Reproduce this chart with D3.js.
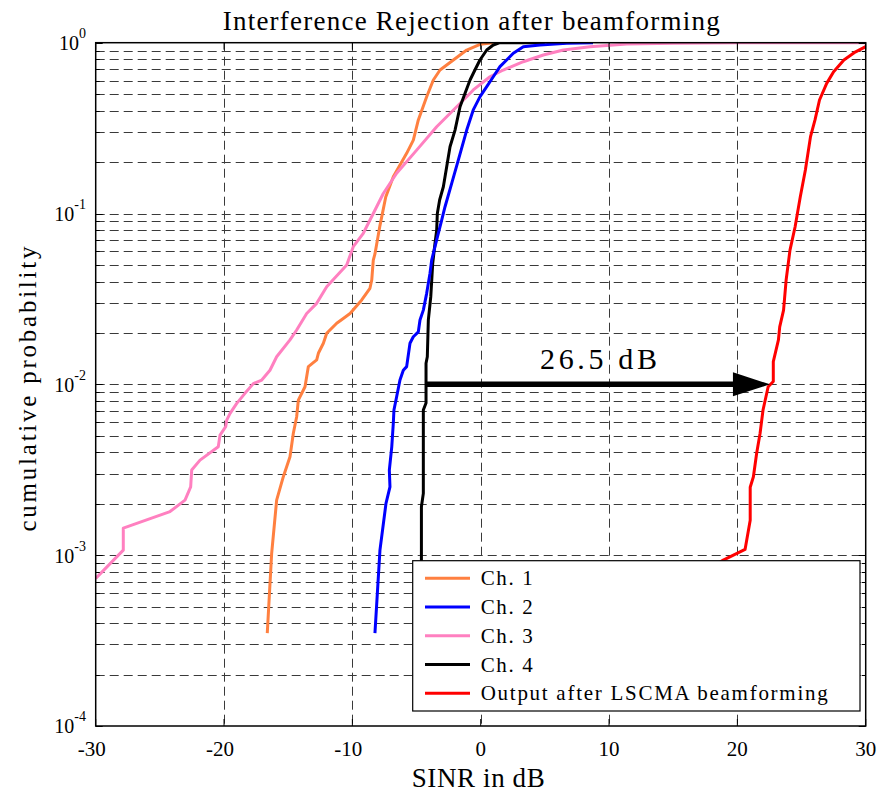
<!DOCTYPE html>
<html><head><meta charset="utf-8">
<script src="https://cdn.jsdelivr.net/npm/d3@7"></script>
<style>
html,body{margin:0;padding:0;background:#fff;}
svg{display:block;}
svg text{font-family:"Liberation Serif","Times New Roman",serif;}
</style></head>
<body>
<svg id="chart" width="878" height="794"></svg>
<script>
// ---- data ----
const seriesNames = ["Ch. 1", "Ch. 2", "Ch. 3", "Ch. 4", "Output after LSCMA beamforming"];
const seriesColors = ["#FF8040", "#0000FF", "#FF80C0", "#000000", "#FF0000"];

const ch1 = [[-16.63,3.5e-4],[-16.29,1.02e-3],[-15.90,2.1e-3],[-15.38,2.88e-3],[-14.86,3.77e-3],[-14.60,5.17e-3],[-14.34,6.46e-3],[-14.21,8.09e-3],[-13.69,9.68e-3],[-13.43,0.0127],[-12.78,0.0139],[-12.65,0.0152],[-12.26,0.0174],[-12.0,0.0199],[-11.22,0.0228],[-10.71,0.0243],[-10.18,0.026],[-9.27,0.0312],[-8.63,0.0365],[-8.49,0.0408],[-8.37,0.0534],[-8.24,0.058],[-7.85,0.085],[-7.4,0.125],[-6.81,0.164],[-5.77,0.225],[-5.25,0.269],[-4.86,0.353],[-4.21,0.483],[-3.69,0.605],[-3.17,0.692],[-2.13,0.792],[-1.09,0.906],[-0.05,0.979],[0.98,1.0]];
const ch2 = [[-8.24,3.5e-4],[-7.85,1.07e-3],[-7.38,2.01e-3],[-7.07,2.51e-3],[-7.12,3.15e-3],[-6.93,4.31e-3],[-6.81,5.92e-3],[-6.76,7.08e-3],[-6.55,8.46e-3],[-6.29,0.0106],[-6.03,0.0121],[-5.77,0.0127],[-5.51,0.0174],[-5.25,0.019],[-4.86,0.0203],[-4.73,0.0238],[-4.47,0.0272],[-4.21,0.0341],[-3.95,0.0447],[-3.82,0.0534],[-3.43,0.07],[-3.04,0.0916],[-2.78,0.1096],[-2.26,0.150],[-1.74,0.206],[-1.09,0.308],[-0.58,0.404],[-0.05,0.483],[0.47,0.553],[0.98,0.632],[1.5,0.724],[2.02,0.792],[2.54,0.867],[3.32,0.948],[4.62,0.969],[6.7,0.992],[8.75,1.0]];
const ch3 = [[-30,7.3e-4],[-27.85,1.07e-3],[-27.85,1.44e-3],[-24.21,1.8e-3],[-23.04,2.1e-3],[-22.6,2.51e-3],[-22.52,3.15e-3],[-21.87,3.6e-3],[-20.45,4.31e-3],[-20.31,5.05e-3],[-19.87,5.65e-3],[-19.79,6.18e-3],[-19.53,6.76e-3],[-19.01,7.74e-3],[-18.37,8.86e-3],[-17.72,0.0101],[-17.06,0.0106],[-16.42,0.0121],[-15.9,0.0145],[-14.86,0.0182],[-14.34,0.0208],[-13.56,0.026],[-12.78,0.0298],[-12.0,0.0373],[-10.44,0.0499],[-9.93,0.064],[-9.15,0.0766],[-8.37,0.1],[-7.59,0.131],[-6.55,0.172],[-4.99,0.235],[-3.43,0.322],[-1.87,0.422],[-1.09,0.483],[-0.58,0.529],[0.72,0.632],[1.76,0.692],[3.32,0.774],[4.88,0.847],[6.44,0.906],[8.52,0.948],[11.38,0.983],[15.0,0.992],[20.2,1.0],[30,1.0]];
const ch4 = [[-4.65,5e-4],[-4.62,9.4e-4],[-4.62,1.92e-3],[-4.47,2.3e-3],[-4.47,7.08e-3],[-4.26,7.78e-3],[-4.26,0.0133],[-4.16,0.0145],[-4.08,0.0238],[-3.89,0.0326],[-3.74,0.051],[-3.56,0.067],[-3.43,0.08],[-3.38,0.1],[-3.2,0.12],[-2.91,0.1435],[-2.65,0.188],[-2.39,0.246],[-2.0,0.308],[-1.61,0.422],[-1.22,0.506],[-0.83,0.605],[-0.45,0.692],[-0.06,0.792],[0.47,0.906],[0.98,0.97],[1.5,1.0],[5,1.0]];
const lscma = [[17.5,8e-4],[18.9,9.36e-4],[20.6,1.08e-3],[21.0,1.6e-3],[21.0,2.5e-3],[21.25,2.88e-3],[21.5,3.94e-3],[21.77,5.17e-3],[22.0,7.08e-3],[22.4,9.68e-3],[22.8,0.0104],[22.8,0.0136],[23.2,0.0182],[23.3,0.0217],[23.6,0.0272],[23.8,0.0408],[24.1,0.0611],[24.5,0.0837],[24.9,0.125],[25.3,0.18],[25.7,0.282],[26.05,0.353],[26.4,0.462],[26.96,0.578],[27.5,0.676],[28.3,0.792],[29.1,0.874],[30,0.948]];
const seriesData = [ch1, ch2, ch3, ch4, lscma];
const drawOrder = [0, 2, 3, 1, 4];

const xTicks = [-30, -20, -10, 0, 10, 20, 30];
const yDecades = [0, -1, -2, -3, -4];
const annotation = {from: -4.34, to: 22.54, p: 0.01, label: "26.5 dB"};

const titleText = "Interference Rejection after beamforming";
const xLabelText = "SINR in dB";
const yLabelText = "cumulative probability";

// ---- layout ----
const L = 95.7, R = 865.7, T = 42.7, B = 726;
const svg = d3.select("#chart");
const x = d3.scaleLinear().domain([-30, 30]).range([L, R]);
const y = d3.scaleLog().domain([1e-4, 1]).range([B, T]);

svg.append("defs").append("clipPath").attr("id", "clip")
  .append("rect").attr("x", L).attr("y", T).attr("width", R - L).attr("height", B - T);

const yGrid = [];
for (let e = -4; e <= 0; e++) {
  for (let m = 1; m <= 9; m++) {
    const v = m * Math.pow(10, e);
    if (v <= 1.0000001) yGrid.push({v: v, major: m === 1});
  }
}

// grid
const grid = svg.append("g").attr("stroke", "#3a3a3a").attr("stroke-width", 1).attr("stroke-dasharray", "9,5");
grid.selectAll("line.h").data(yGrid.filter(d => d.v > 1e-4 && d.v < 1)).join("line")
  .attr("x1", L).attr("x2", R).attr("y1", d => Math.round(y(d.v)) + 0.5).attr("y2", d => Math.round(y(d.v)) + 0.5);
grid.selectAll("line.v").data(xTicks.filter(t => t > -30 && t < 30)).join("line")
  .attr("y1", T).attr("y2", B).attr("x1", d => Math.round(x(d)) + 0.5).attr("x2", d => Math.round(x(d)) + 0.5);

// curves
const line = d3.line().x(d => x(d[0])).y(d => y(d[1]));
const curves = svg.append("g").attr("clip-path", "url(#clip)");
drawOrder.forEach(i => {
  curves.append("path").datum(seriesData[i]).attr("d", line)
    .attr("fill", "none").attr("stroke", seriesColors[i]).attr("stroke-width", 3)
    .attr("stroke-linejoin", "round");
});

// annotation arrow
const ay = y(annotation.p);
const tipX = x(annotation.to);
svg.append("line").attr("x1", x(annotation.from)).attr("x2", tipX - 30).attr("y1", ay).attr("y2", ay)
  .attr("stroke", "#000").attr("stroke-width", 5.5);
svg.append("path").attr("d", `M${tipX},${ay} L${tipX - 37},${ay - 12} L${tipX - 37},${ay + 12} Z`).attr("fill", "#000");
svg.append("text").attr("x", 540).attr("y", 369).attr("font-size", 30)
  .attr("textLength", 117).attr("lengthAdjust", "spacing").text(annotation.label);

// legend
const lg = svg.append("g");
lg.append("rect").attr("x", 412.7).attr("y", 560.7).attr("width", 447.3).attr("height", 150.3)
  .attr("fill", "#fff").attr("stroke", "#000").attr("stroke-width", 1.2);
const legendLen = [52, 52, 52, 52, 347];
seriesNames.forEach((n, i) => {
  const ry = 578.3 + i * 28.75;
  lg.append("line").attr("x1", 425).attr("x2", 470).attr("y1", ry).attr("y2", ry)
    .attr("stroke", seriesColors[i]).attr("stroke-width", 3);
  lg.append("text").attr("x", 480.7).attr("y", ry + 7).attr("font-size", 21)
    .attr("textLength", legendLen[i]).attr("lengthAdjust", "spacing").text(n);
});

// axes box & ticks
const ax = svg.append("g").attr("stroke", "#000");
ax.append("rect").attr("x", L).attr("y", T).attr("width", R - L).attr("height", B - T)
  .attr("fill", "none").attr("stroke-width", 1.5);
xTicks.forEach(t => {
  ax.append("line").attr("x1", x(t)).attr("x2", x(t)).attr("y1", B).attr("y2", B - 7).attr("stroke-width", 1);
  ax.append("line").attr("x1", x(t)).attr("x2", x(t)).attr("y1", T).attr("y2", T + 7).attr("stroke-width", 1);
});
yGrid.forEach(d => {
  const len = d.major ? 7 : 4;
  const yy = Math.round(y(d.v)) + 0.5;
  ax.append("line").attr("x1", L).attr("x2", L + len).attr("y1", yy).attr("y2", yy).attr("stroke-width", 1);
  ax.append("line").attr("x1", R).attr("x2", R - len).attr("y1", yy).attr("y2", yy).attr("stroke-width", 1);
});

// tick labels
svg.append("g").selectAll("text").data(xTicks).join("text")
  .attr("x", d => x(d) - (d < 0 ? 4 : 0)).attr("y", 756).attr("text-anchor", "middle").attr("font-size", 21)
  .text(d => d);
const yl = svg.append("g");
yDecades.forEach(e => {
  const t = yl.append("text").attr("x", 86).attr("y", y(Math.pow(10, e)) + 7.4).attr("text-anchor", "end").attr("font-size", 20);
  t.append("tspan").text("10");
  t.append("tspan").attr("font-size", 14).attr("dy", -12).text(String(e));
});

// titles
svg.append("text").attr("x", 222.7).attr("y", 30).attr("font-size", 27)
  .attr("textLength", 497).attr("lengthAdjust", "spacing").text(titleText);
svg.append("text").attr("x", 411.7).attr("y", 787).attr("font-size", 27)
  .attr("textLength", 133).attr("lengthAdjust", "spacing").text(xLabelText);
svg.append("text").attr("transform", "translate(36,389) rotate(-90)").attr("text-anchor", "middle")
  .attr("font-size", 25).attr("textLength", 285).attr("lengthAdjust", "spacing").text(yLabelText);
</script>
</body></html>
